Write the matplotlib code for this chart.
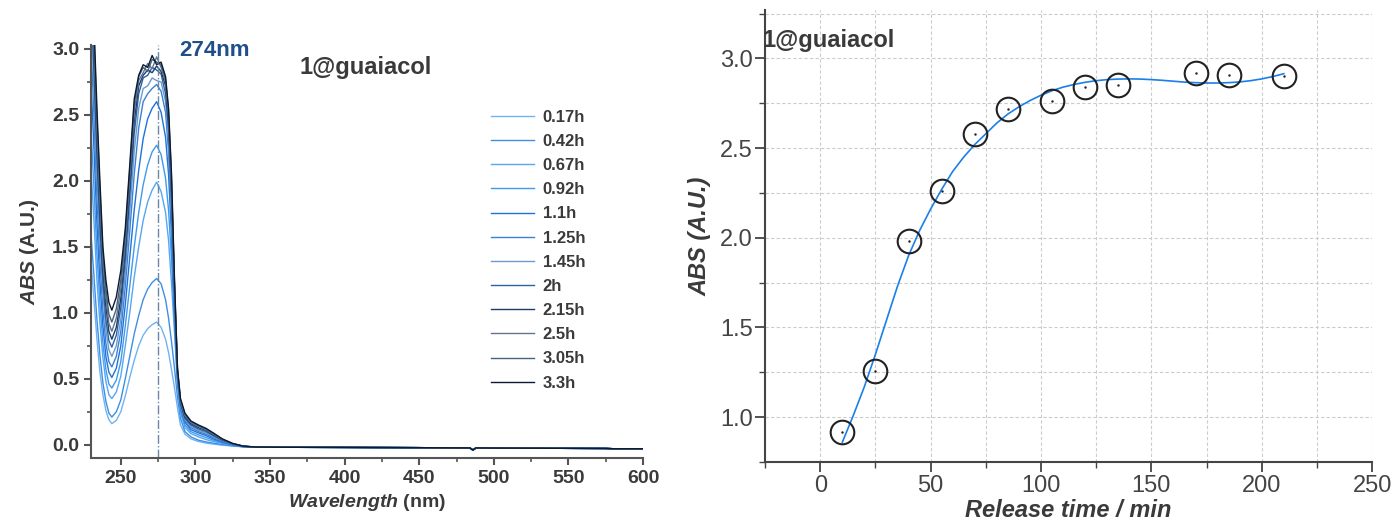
import matplotlib.pyplot as plt
from matplotlib.ticker import MultipleLocator

plt.rcParams['font.family'] = ['Liberation Sans', 'DejaVu Sans']
plt.rcParams['mathtext.fontset'] = 'custom'
plt.rcParams['mathtext.rm'] = 'Liberation Sans:bold'
plt.rcParams['mathtext.bfit'] = 'Liberation Sans:bold:italic'

# ---- left panel: UV-vis spectra ----
wl = [230, 232, 234, 236, 238, 240, 242, 244, 247, 250, 253, 256, 259, 262, 265, 268, 271,
      274, 277, 280, 282, 284, 286, 288, 290, 293, 297, 302, 307, 312, 318, 325, 332]
tail_wl = [340, 360, 400, 450, 484, 486, 488, 500, 550, 575, 580, 600]
tail_abs = [-0.017, -0.019, -0.02, -0.022, -0.024, -0.04, -0.024, -0.025, -0.027, -0.028, -0.03, -0.03]

abs_017h = [1.40, 1.10, 0.80, 0.55, 0.38, 0.26, 0.19, 0.16, 0.185, 0.25, 0.37, 0.51, 0.64, 0.75, 0.83, 0.88, 0.91,
            0.93, 0.89, 0.80, 0.70, 0.57, 0.43, 0.28, 0.15, 0.08, 0.045, 0.025, 0.013, 0.005, -0.003, -0.01, -0.015]
abs_042h = [1.60, 1.28, 0.95, 0.68, 0.47, 0.33, 0.24, 0.21, 0.25, 0.34, 0.50, 0.67, 0.84, 0.98, 1.10, 1.18, 1.23,
            1.26, 1.22, 1.10, 0.96, 0.78, 0.58, 0.36, 0.20, 0.10, 0.06, 0.035, 0.022, 0.012, 0.002, -0.008, -0.015]
abs_067h = [2.10, 1.70, 1.25, 0.92, 0.66, 0.48, 0.38, 0.35, 0.40, 0.52, 0.75, 1.00, 1.27, 1.50, 1.70, 1.84, 1.93,
            1.99, 1.92, 1.76, 1.55, 1.22, 0.85, 0.45, 0.24, 0.13, 0.085, 0.06, 0.04, 0.025, 0.01, -0.005, -0.015]
abs_092h = [2.40, 1.95, 1.45, 1.07, 0.77, 0.57, 0.46, 0.43, 0.49, 0.63, 0.90, 1.20, 1.50, 1.76, 1.97, 2.12, 2.22,
            2.27, 2.20, 2.02, 1.78, 1.40, 0.92, 0.48, 0.26, 0.15, 0.10, 0.075, 0.055, 0.035, 0.015, -0.003, -0.015]
abs_110h = [2.75, 2.25, 1.68, 1.24, 0.90, 0.67, 0.55, 0.51, 0.58, 0.75, 1.06, 1.42, 1.78, 2.08, 2.32, 2.47, 2.55,
            2.60, 2.52, 2.33, 2.05, 1.58, 1.00, 0.50, 0.28, 0.17, 0.115, 0.09, 0.07, 0.045, 0.02, 0.0, -0.013]
abs_125h = [3.05, 2.50, 1.88, 1.40, 1.02, 0.77, 0.63, 0.59, 0.67, 0.86, 1.20, 1.62, 2.05, 2.40, 2.60, 2.66, 2.70,
            2.73, 2.68, 2.52, 2.22, 1.70, 1.05, 0.52, 0.29, 0.18, 0.13, 0.10, 0.08, 0.055, 0.025, 0.002, -0.013]
abs_145h = [3.30, 2.70, 2.05, 1.55, 1.14, 0.87, 0.72, 0.67, 0.75, 0.95, 1.30, 1.76, 2.22, 2.55, 2.70, 2.72, 2.78,
            2.76, 2.75, 2.60, 2.32, 1.78, 1.10, 0.53, 0.30, 0.19, 0.14, 0.11, 0.09, 0.062, 0.03, 0.004, -0.012]
abs_200h = [3.40, 2.85, 2.18, 1.66, 1.23, 0.95, 0.79, 0.74, 0.83, 1.04, 1.40, 1.88, 2.36, 2.66, 2.78, 2.80, 2.86,
            2.84, 2.81, 2.66, 2.40, 1.86, 1.14, 0.54, 0.31, 0.20, 0.15, 0.12, 0.10, 0.07, 0.034, 0.006, -0.012]
abs_215h = [3.50, 2.95, 2.30, 1.76, 1.32, 1.05, 0.86, 0.80, 0.89, 1.11, 1.48, 1.96, 2.45, 2.72, 2.80, 2.84, 2.82,
            2.87, 2.83, 2.72, 2.45, 1.92, 1.18, 0.55, 0.32, 0.21, 0.16, 0.13, 0.11, 0.075, 0.037, 0.007, -0.011]
abs_250h = [3.50, 3.05, 2.40, 1.85, 1.39, 1.12, 0.92, 0.86, 0.96, 1.18, 1.54, 2.03, 2.52, 2.76, 2.82, 2.89, 2.85,
            2.94, 2.86, 2.75, 2.50, 1.97, 1.20, 0.56, 0.33, 0.22, 0.17, 0.14, 0.115, 0.08, 0.04, 0.008, -0.011]
abs_305h = [3.60, 3.12, 2.48, 1.93, 1.45, 1.18, 0.99, 0.93, 1.03, 1.25, 1.59, 2.08, 2.58, 2.79, 2.86, 2.83, 2.92,
            2.90, 2.88, 2.77, 2.53, 2.01, 1.22, 0.57, 0.34, 0.23, 0.175, 0.145, 0.12, 0.085, 0.042, 0.009, -0.01]
abs_330h = [3.60, 3.20, 2.55, 2.00, 1.50, 1.25, 1.08, 1.02, 1.12, 1.32, 1.64, 2.12, 2.62, 2.80, 2.88, 2.86, 2.95,
            2.88, 2.90, 2.79, 2.55, 2.05, 1.25, 0.58, 0.35, 0.24, 0.18, 0.15, 0.125, 0.09, 0.045, 0.01, -0.01]

spectra = [abs_017h, abs_042h, abs_067h, abs_092h, abs_110h, abs_125h,
           abs_145h, abs_200h, abs_215h, abs_250h, abs_305h, abs_330h]
labels = ['0.17h', '0.42h', '0.67h', '0.92h', '1.1h', '1.25h',
          '1.45h', '2h', '2.15h', '2.5h', '3.05h', '3.3h']
colors = ['#6fb3f2', '#3d8fe6', '#56a6f2', '#3e9aee', '#1d72dc', '#3a80d6',
          '#6b9bcf', '#2b62a6', '#1c3d6b', '#62758d', '#46627f', '#0b1a30']

# ---- right panel: peak absorbance vs release time ----
time_min = [10, 25, 40, 55, 70, 85, 105, 120, 135, 170, 185, 210]
peak_abs = [0.92, 1.26, 1.98, 2.26, 2.58, 2.72, 2.76, 2.84, 2.85, 2.92, 2.91, 2.90]
fit_t = [10, 15, 20, 25, 30, 35, 40, 45, 50, 55, 60, 65, 70, 75, 80, 85, 90, 95, 100, 105, 110,
         115, 120, 125, 130, 135, 140, 145, 150, 155, 160, 165, 170, 175, 180, 185, 190, 195, 200, 205, 210]
fit_abs = [0.86, 1.01, 1.17, 1.35, 1.54, 1.73, 1.90, 2.04, 2.16, 2.27, 2.37, 2.45, 2.52, 2.58, 2.64, 2.69,
           2.73, 2.765, 2.795, 2.82, 2.84, 2.855, 2.867, 2.876, 2.882, 2.885, 2.886, 2.885, 2.882, 2.878,
           2.873, 2.868, 2.865, 2.863, 2.863, 2.865, 2.869, 2.876, 2.886, 2.899, 2.915]

fig = plt.figure(figsize=(13.93, 5.27), dpi=100)

ax1 = fig.add_axes([0.0653, 0.131, 0.3963, 0.7837])
for lab, col, vals in zip(labels, colors, spectra):
    ax1.plot(wl + tail_wl, vals + tail_abs, color=col, lw=1.0, label=lab)
ax1.axvline(274.6, color='#6a86a8', lw=1.0, ls='-.')
ax1.set_xlim(230, 600)
ax1.set_ylim(-0.1, 3.03)
ax1.xaxis.set_major_locator(MultipleLocator(50))
ax1.xaxis.set_minor_locator(MultipleLocator(25))
ax1.yaxis.set_major_locator(MultipleLocator(0.5))
ax1.yaxis.set_minor_locator(MultipleLocator(0.25))
ax1.yaxis.set_major_formatter(plt.FormatStrFormatter('%.1f'))
for s in ['top', 'right']:
    ax1.spines[s].set_visible(False)
for s in ['left', 'bottom']:
    ax1.spines[s].set_color('#555555')
    ax1.spines[s].set_linewidth(1.5)
ax1.tick_params(which='major', direction='out', length=5, width=1.5, color='#555555',
                labelsize=14, labelcolor='#3a3a3a')
ax1.tick_params(which='minor', direction='out', length=3, width=1.2, color='#555555')
for t in ax1.get_xticklabels() + ax1.get_yticklabels():
    t.set_fontweight('bold')
ax1.set_xlabel(r'$\mathbfit{Wavelength}$ (nm)', fontsize=14, fontweight='bold', color='#3a3a3a', labelpad=4)
ax1.set_ylabel(r'$\mathbfit{ABS}$ (A.U.)', fontsize=15, fontweight='bold', color='#3a3a3a', labelpad=8)
ax1.text(289.5, 2.99, '274nm', fontsize=16, fontweight='bold', color='#1f4f8a', va='center')
ax1.text(370, 2.86, '1@guaiacol', fontsize=17, fontweight='bold', color='#3a3a3a', va='center')
ax1.legend(loc='upper left', bbox_to_anchor=(0.7246, 0.843), frameon=False,
           prop={'size': 12, 'weight': 'bold'}, labelcolor='#3a3a3a',
           handlelength=2.6, handletextpad=0.5, labelspacing=0.55, borderpad=0, borderaxespad=0)

ax2 = fig.add_axes([0.5492, 0.1233, 0.4358, 0.8577])
ax2.set_axisbelow(True)
ax2.grid(which='both', ls=(0, (3, 2)), color='#cccccc', lw=0.8)
ax2.plot(fit_t, fit_abs, color='#1a7fe8', lw=1.2)
ax2.plot(time_min, peak_abs, 'o', mfc='none', mec='#222222', ms=17, mew=1.5)
ax2.plot(time_min, peak_abs, '.', color='#222222', ms=1.5)
ax2.set_xlim(-25, 250)
ax2.set_ylim(0.75, 3.27)
ax2.xaxis.set_major_locator(MultipleLocator(50))
ax2.xaxis.set_minor_locator(MultipleLocator(25))
ax2.yaxis.set_major_locator(MultipleLocator(0.5))
ax2.yaxis.set_minor_locator(MultipleLocator(0.25))
ax2.yaxis.set_major_formatter(plt.FormatStrFormatter('%.1f'))
for s in ['top', 'right']:
    ax2.spines[s].set_visible(False)
for s in ['left', 'bottom']:
    ax2.spines[s].set_color('#444444')
    ax2.spines[s].set_linewidth(1.5)
ax2.tick_params(which='major', direction='out', length=7, width=1.3, color='#444444',
                labelsize=17, labelcolor='#444444', pad=2)
ax2.tick_params(which='minor', direction='out', length=4, width=1.0, color='#444444')
ax2.set_xlabel('Release time / min', fontsize=17, fontweight='bold', style='italic', color='#3a3a3a', labelpad=2)
ax2.set_ylabel('ABS (A.U.)', fontsize=17, fontweight='bold', style='italic', color='#3a3a3a', labelpad=6)
ax2.text(-26, 3.1, '1@guaiacol', fontsize=17, fontweight='bold', color='#3a3a3a', va='center')

fig.savefig('out.png', dpi=100)
